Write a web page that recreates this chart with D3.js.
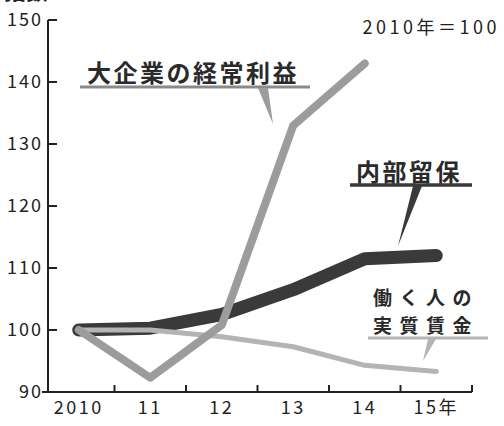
<!DOCTYPE html>
<html><head><meta charset="utf-8">
<script src="https://cdn.jsdelivr.net/npm/d3@7"></script>
<style>body{margin:0;background:#fff}svg{display:block}</style>
</head><body>
<svg id="c" width="504" height="426"></svg>
<script>
const years = ["2010","11","12","13","14","15年"];
const yTicks = [90,100,110,120,130,140,150];
const profit = [100, 92.3, 100.8, 133, 143];      // 大企業の経常利益 (2010-14)
const retained = [100, 100.3, 102.5, 106.5, 111.5, 112]; // 内部留保
const wages = [100, 100, 98.9, 97.3, 94.3, 93.3];  // 働く人の実質賃金

const svg = d3.select("#c");
const font = "'Noto Sans CJK JP','Noto Sans',sans-serif";
const x = d3.scaleBand().domain(years).range([43, 472]);
const y = d3.scaleLinear().domain([90,150]).range([392, 20]);
const cx = d => x(d) + x.bandwidth()/2;

// cut-off title at top-left
svg.append("text").attr("x",4).attr("y",-1).attr("font-family",font).attr("font-weight",900)
  .attr("font-size",22).attr("fill","#222").text("指数");

// y axis
const ax = 48;
svg.append("line").attr("x1",ax).attr("x2",ax).attr("y1",y(150)).attr("y2",y(90))
  .attr("stroke","#222").attr("stroke-width",2);
yTicks.forEach(t=>{
  if (t>90) svg.append("line").attr("x1",ax).attr("x2",ax+9).attr("y1",y(t)).attr("y2",y(t))
    .attr("stroke","#222").attr("stroke-width",2);
  svg.append("text").attr("x",ax-5).attr("y",y(t)).attr("dy","0.36em").attr("text-anchor","end")
    .attr("font-family",font).attr("font-size",18).attr("letter-spacing",2).attr("fill","#222").text(t);
});
// x axis
svg.append("line").attr("x1",42).attr("x2",472).attr("y1",y(90)).attr("y2",y(90))
  .attr("stroke","#222").attr("stroke-width",2);
years.forEach((yr,i)=>{
  if (i>0) svg.append("line").attr("x1",x(yr)).attr("x2",x(yr)).attr("y1",y(90)).attr("y2",y(90)-7)
    .attr("stroke","#222").attr("stroke-width",2);
  svg.append("text").attr("x",cx(yr)).attr("y",414).attr("text-anchor","middle")
    .attr("font-family",font).attr("font-size",18).attr("letter-spacing",2.5).attr("fill","#222").text(yr);
});
svg.append("line").attr("x1",472).attr("x2",472).attr("y1",y(90)).attr("y2",y(90)-7)
  .attr("stroke","#222").attr("stroke-width",2);

const line = d3.line().x((d,i)=>cx(years[i])).y(d=>y(d));
function path(data,color,w){
  svg.append("path").attr("d",line(data)).attr("fill","none").attr("stroke",color)
    .attr("stroke-width",w).attr("stroke-linecap","round").attr("stroke-linejoin","round");
}
path(retained,"#3a3a3a",13);
path(wages,"#b4b4b4",5);
path(profit,"#9c9c9c",8);

// labels
function label(txt,xx,yy,fs,ls){
  svg.append("text").attr("x",xx).attr("y",yy).attr("font-family",font).attr("font-weight",700)
    .attr("font-size",fs).attr("letter-spacing",ls).attr("fill","#2a2a2a").text(txt);
}
label("大企業の経常利益",87,82,24,2.5);
svg.append("line").attr("x1",80).attr("x2",310).attr("y1",87).attr("y2",87).attr("stroke","#8a8a8a").attr("stroke-width",3);
svg.append("path").attr("d","M258,88 L268,88 L273,124 Z").attr("fill","#9c9c9c");

label("内部留保",356,181,24,2.5);
svg.append("line").attr("x1",350).attr("x2",472).attr("y1",185).attr("y2",185).attr("stroke","#3a3a3a").attr("stroke-width",3.5);
svg.append("path").attr("d","M413,186 L422,186 L398,246 Z").attr("fill","#3a3a3a");

label("働く人の",373,305,19,7.5);
label("実質賃金",373,333,19,7.5);
svg.append("line").attr("x1",368).attr("x2",488).attr("y1",338).attr("y2",338).attr("stroke","#b4b4b4").attr("stroke-width",3);
svg.append("path").attr("d","M428,339 L436,339 L423,361 Z").attr("fill","#b4b4b4");

svg.append("text").attr("x",500).attr("y",34).attr("text-anchor","end").attr("font-family",font)
  .attr("font-size",18).attr("letter-spacing",3.5).attr("fill","#222").text("2010年＝100");
</script>
</body></html>
